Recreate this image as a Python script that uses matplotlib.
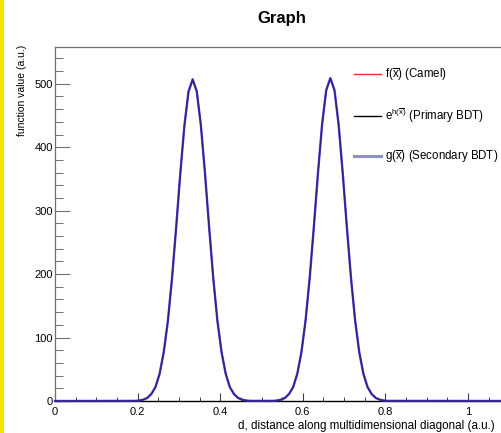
import matplotlib
matplotlib.use("Agg")
import matplotlib.pyplot as plt
from matplotlib.patches import Rectangle
from matplotlib.ticker import MultipleLocator

plt.rcParams['font.family'] = ['Liberation Sans', 'DejaVu Sans']
plt.rcParams['mathtext.fontset'] = 'custom'
plt.rcParams['mathtext.rm'] = 'Liberation Sans'
plt.rcParams['mathtext.it'] = 'Liberation Sans'

# distance along the diagonal
d = [0.0,
     0.1933, 0.2033, 0.2133, 0.2233, 0.2333, 0.2433, 0.2533, 0.2633, 0.2733, 0.2833,
     0.2933, 0.3033, 0.3133, 0.3233, 0.3333, 0.3433, 0.3533, 0.3633, 0.3733, 0.3833,
     0.3933, 0.4033, 0.4133, 0.4233, 0.4333, 0.4433, 0.4533, 0.4633, 0.4733,
     0.5267, 0.5367, 0.5467, 0.5567, 0.5667, 0.5767, 0.5867, 0.5967, 0.6067, 0.6167,
     0.6267, 0.6367, 0.6467, 0.6567, 0.6667, 0.6767, 0.6867, 0.6967, 0.7067, 0.7167,
     0.7267, 0.7367, 0.7467, 0.7567, 0.7667, 0.7767, 0.7867, 0.7967, 0.8067,
     1.2]

camel = [0.0,
         0.2, 0.7, 2, 4.8, 11, 22, 43, 77, 126, 193,
         273, 358, 434, 488, 507, 488, 434, 358, 273, 193,
         126, 77, 43, 22, 11, 4.8, 2, 0.7, 0.2,
         0.2, 0.7, 2, 4.8, 11, 22, 43, 77, 127, 194,
         274, 359, 436, 490, 509, 490, 436, 359, 274, 194,
         127, 77, 43, 22, 11, 4.8, 2, 0.7, 0.2,
         0.0]

primary_bdt = [0.0,
               0.2, 0.7, 2, 5, 11, 22, 43, 77, 126, 193,
               273, 358, 433, 487, 506, 488, 434, 358, 273, 192,
               126, 77, 43, 22, 11, 4.8, 2, 0.7, 0.2,
               0.2, 0.7, 2, 4.8, 11, 22, 43, 77, 127, 194,
               274, 359, 435, 489, 508, 490, 436, 359, 274, 194,
               127, 77, 43, 22, 11, 5, 2, 0.7, 0.2,
               0.0]

secondary_bdt = [0.0,
                 0.2, 0.7, 2, 4.8, 11, 22, 43, 77, 126, 193,
                 273, 358, 434, 488, 507, 488, 434, 358, 273, 193,
                 126, 77, 43, 22, 11, 4.8, 2, 0.7, 0.2,
                 0.2, 0.7, 2, 4.8, 11, 22, 43, 77, 127, 194,
                 274, 359, 436, 490, 509, 490, 436, 359, 274, 194,
                 127, 77, 43, 22, 11, 4.8, 2, 0.7, 0.2,
                 0.0]

labels = [r'f($\overline{x}$) (Camel)',
          r'e$^{h(\overline{x})}$ (Primary BDT)',
          r'g($\overline{x}$) (Secondary BDT)']

W, H = 501, 433
fig = plt.figure(figsize=(W / 100, H / 100), dpi=100)
fig.patch.set_facecolor('white')

# axes frame: x = 0 at 55 px, x = 1 at 468 px; y = 0 at 401 px, top at 47 px
left = 55 / W
bottom = (H - 401) / H
height = (401 - 47) / H
width = (413 * 1.2) / W
ax = fig.add_axes([left, bottom, width, height])
ax.set_xlim(0, 1.2)
ax.set_ylim(0, 558)

l1, = ax.plot(d, camel, color='#e02020', lw=1.0, clip_on=False, zorder=3)
l3, = ax.plot(d, secondary_bdt, color='#3a30c8', lw=1.7, alpha=0.9, clip_on=False, zorder=4)
l2, = ax.plot(d, primary_bdt, color='#101030', lw=0.8, alpha=0.45, clip_on=False, zorder=5)

for s in ['top', 'left', 'right']:
    ax.spines[s].set_color('#707070')
    ax.spines[s].set_linewidth(0.9)
ax.spines['bottom'].set_color('black')
ax.spines['bottom'].set_linewidth(1.0)

ax.xaxis.set_minor_locator(MultipleLocator(0.05))
ax.yaxis.set_major_locator(MultipleLocator(100))
ax.yaxis.set_minor_locator(MultipleLocator(20))
ax.set_xticks([0, 0.2, 0.4, 0.6, 0.8, 1.0])
ax.set_xticklabels(['0', '0.2', '0.4', '0.6', '0.8', '1'])

ax.tick_params(axis='x', which='major', direction='in', length=6, width=0.8,
               color='#404040', labelsize=8, pad=4)
ax.tick_params(axis='x', which='minor', direction='in', length=3, width=0.7, color='#404040')
ax.tick_params(axis='y', which='major', direction='in', length=10.5, width=0.8,
               color='#707070', labelsize=8, pad=1.5)
ax.tick_params(axis='y', which='minor', direction='in', length=5.5, width=0.7, color='#707070')
ax.tick_params(top=False, right=False)

fig.text(238 / W, (H - 426) / H, 'd, distance along multidimensional diagonal (a.u.)',
         fontsize=8.4, ha='left', va='center')
fig.text(22 / W, (H - 45) / H, 'function value (a.u.)', fontsize=7.5,
         rotation=90, ha='center', va='top')
fig.text(282 / W, (H - 19) / H, 'Graph', fontsize=12, fontweight='bold',
         ha='center', va='center')

leg = ax.legend([l1, l2, l3], labels, loc='upper left',
                bbox_to_anchor=((354 - 55) / (W * width), (401 - 66) / 354),
                frameon=False, fontsize=8.3, handlelength=2.3, handletextpad=0.4,
                labelspacing=2.0, borderaxespad=0, borderpad=0)
for h in leg.legend_handles:
    h.set_alpha(None)
leg.legend_handles[0].set_color('#e83030')
leg.legend_handles[2].set_color('#8c8ce8')
leg.legend_handles[2].set_linewidth(2.2)
leg.legend_handles[1].set_color('black')
leg.legend_handles[1].set_linewidth(1.0)

# yellow strip along the left edge
fig.patches.append(Rectangle((0, 0), 4 / W, 1, transform=fig.transFigure,
                             facecolor='#f2e400', edgecolor='none', zorder=10))

fig.savefig('out.png', dpi=100)
